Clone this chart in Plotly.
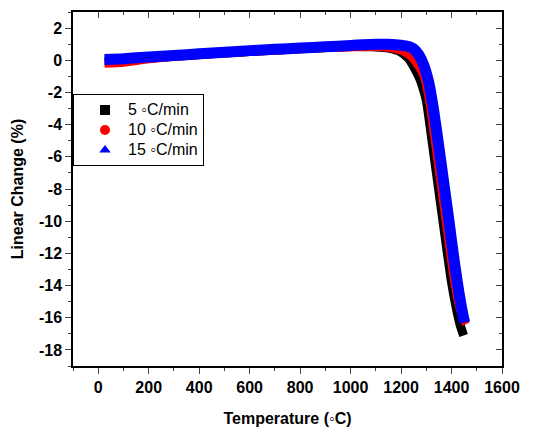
import plotly.graph_objects as go

# Temperature (°C) and linear change (%) for each heating rate
t_5 = [25, 100, 200, 300, 400, 500, 600, 700, 800, 900, 1000, 1100, 1150, 1200, 1230, 1250, 1270,
       1280, 1300, 1320, 1340, 1360, 1380, 1400, 1420, 1435, 1448]
y_5 = [-0.1, -0.02, 0.12, 0.25, 0.35, 0.45, 0.55, 0.63, 0.71, 0.79, 0.85, 0.83, 0.75, 0.5, 0.1, -0.4, -1.0,
       -1.4, -2.5, -4.7, -7.0, -9.3, -11.6, -13.8, -15.5, -16.5, -17.1]

t_10 = [25, 100, 200, 300, 400, 500, 600, 700, 800, 900, 1000, 1100, 1150, 1200, 1240, 1270,
        1290, 1310, 1330, 1350, 1370, 1390, 1410, 1430, 1445, 1458]
y_10 = [-0.22, -0.15, 0.06, 0.22, 0.32, 0.42, 0.52, 0.6, 0.68, 0.76, 0.8, 0.82, 0.76, 0.6, 0.2, -0.4,
        -1.0, -2.4, -4.6, -6.9, -9.2, -11.5, -13.7, -15.3, -16.0, -16.4]

t_15 = [25, 100, 200, 300, 400, 500, 600, 700, 800, 900, 1000, 1050, 1100, 1150, 1200, 1230, 1250,
        1270, 1290, 1310, 1330, 1350, 1370, 1390, 1410, 1430, 1445, 1452]
y_15 = [0.05, 0.1, 0.2, 0.3, 0.4, 0.5, 0.6, 0.68, 0.76, 0.84, 0.92, 0.97, 1.0, 0.99, 0.93, 0.85, 0.7,
        0.35, -0.3, -1.4, -3.2, -5.4, -7.7, -10.0, -12.4, -14.5, -15.8, -16.3]

series_names = ["5 \u25e6C/min", "10 \u25e6C/min", "15 \u25e6C/min"]
colors = ["#000000", "#ff0000", "#0000ff"]
symbols = ["square", "circle", "triangle-up"]
widths = [9, 8, 11]

x_ticks = [0, 200, 400, 600, 800, 1000, 1200, 1400, 1600]
y_ticks = [2, 0, -2, -4, -6, -8, -10, -12, -14, -16, -18]

FONT = "Arial, Liberation Sans, sans-serif"

fig = go.Figure()
for t, y, name, c, w in zip([t_5, t_10, t_15], [y_5, y_10, y_15], series_names, colors, widths):
    fig.add_trace(go.Scatter(x=t, y=y, mode="lines", line=dict(color=c, width=w, shape="spline", smoothing=0.6),
                             showlegend=False, legendgroup=name))
for name, c, s in zip(series_names, colors, symbols):
    fig.add_trace(go.Scatter(x=[None], y=[None], mode="markers",
                             name=f'<span style="font-size:16px">{name}</span>', legendgroup=name,
                             marker=dict(color=c, symbol=s, size=10)))

axis_common = dict(showline=True, linecolor="black", linewidth=1.5, showgrid=False, zeroline=False,
                   automargin=False)

# the page body adds an 8px offset, so the figure is drawn 8px smaller
fig.update_layout(
    width=529, height=419,
    margin=dict(l=65, r=35, t=4, b=61),
    plot_bgcolor="white", paper_bgcolor="white",
    font=dict(family=FONT, size=16, color="black"),
    xaxis=dict(range=[-100, 1600], tickvals=x_ticks, ticktext=[f"<b>{v}</b>" for v in x_ticks],
               ticks="outside", ticklen=6, tickwidth=1.2, tickfont=dict(family=FONT, size=16),
               minor=dict(dtick=100, tick0=0, ticks="outside", ticklen=3, tickwidth=1),
               title=dict(text="<b>Temperature (\u25e6C)</b>", font=dict(family=FONT, size=16), standoff=22),
               **axis_common),
    yaxis=dict(range=[-19, 3], tickvals=y_ticks, ticktext=[f"<b>{v}</b>" for v in y_ticks],
               ticks="outside", ticklen=6, tickwidth=1.2, tickfont=dict(family=FONT, size=16),
               minor=dict(dtick=1, tick0=0, ticks="outside", ticklen=3, tickwidth=1),
               title=dict(text="<b>Linear Change (%)</b>", font=dict(family=FONT, size=16), standoff=11),
               **axis_common),
    xaxis2=dict(range=[-100, 1600], overlaying="x", side="top", anchor="y", tickvals=x_ticks, ticks="inside",
                ticklen=6, tickwidth=1.2, showticklabels=False,
                minor=dict(dtick=100, tick0=0, ticks="inside", ticklen=3, tickwidth=1), **axis_common),
    yaxis2=dict(range=[-19, 3], overlaying="y", side="right", anchor="x", tickvals=y_ticks, ticks="inside",
                ticklen=6, tickwidth=1.2, showticklabels=False,
                minor=dict(dtick=1, tick0=0, ticks="inside", ticklen=3, tickwidth=1), **axis_common),
    legend=dict(x=0, y=0.768, xanchor="left", yanchor="top", bordercolor="black", borderwidth=1,
                bgcolor="white", font=dict(family=FONT, size=13), itemwidth=36, indentation=8,
                tracegroupgap=0),
)
# anchor overlay axes with an empty trace so they are drawn
fig.add_trace(go.Scatter(x=[None], y=[None], xaxis="x2", yaxis="y2", showlegend=False, hoverinfo="skip"))

fig.write_html("out.html")
